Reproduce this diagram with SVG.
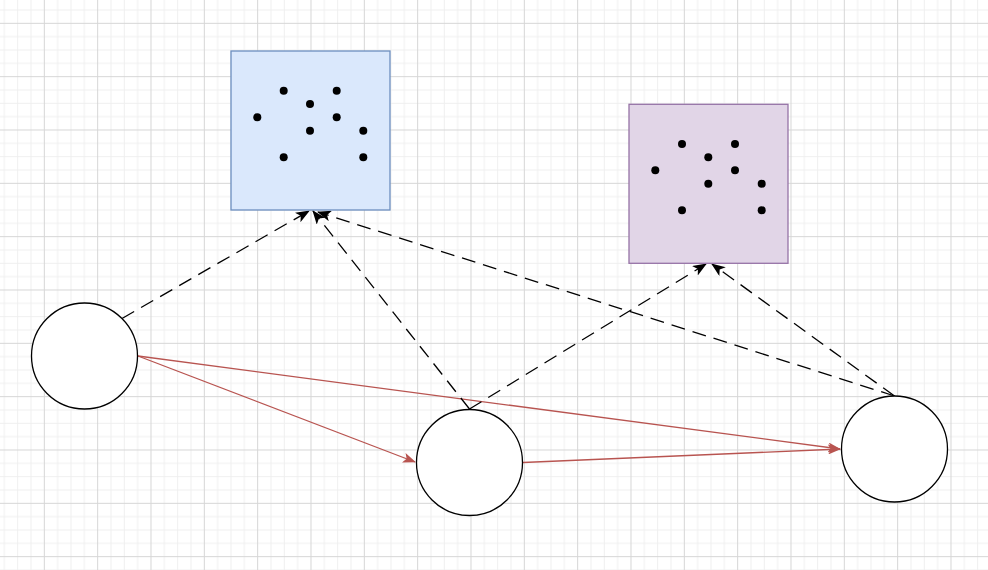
<svg xmlns="http://www.w3.org/2000/svg" width="988" height="570" viewBox="0 0 988 570">
  <defs>
    <pattern id="grid" patternUnits="userSpaceOnUse" x="43.83" y="22.83" width="53.333" height="53.333">
      <path d="M13.833 0V53.333M27.167 0V53.333M40.5 0V53.333M0 13.833H53.333M0 27.167H53.333M0 40.5H53.333" stroke="#efefef" stroke-width="1" fill="none"/>
      <path d="M0.5 0V53.333M0 0.5H53.333" stroke="#d6d6d6" stroke-width="1" fill="none"/>
    </pattern>
    <marker id="blk" viewBox="0 0 14 11" refX="13" refY="5.5" markerWidth="14" markerHeight="11" markerUnits="userSpaceOnUse" orient="auto">
      <path d="M0 0L14 5.5L0 11L3.5 5.5Z" fill="#000"/>
    </marker>
    <marker id="red" viewBox="0 0 13 10" refX="12" refY="5" markerWidth="13" markerHeight="10" markerUnits="userSpaceOnUse" orient="auto">
      <path d="M0 0L13 5L0 10L3 5Z" fill="#b85450"/>
    </marker>
    <style>
      .node{fill:#fff;stroke:#000;stroke-width:1.3}
      .dot{fill:#000}
      .dash{fill:none;stroke:#000;stroke-width:1.3;stroke-dasharray:14 8;marker-end:url(#blk)}
      .redl{fill:none;stroke:#b85450;stroke-width:1.3;marker-end:url(#red)}
    </style>
  </defs>
  <rect width="988" height="570" fill="#fff"/>
  <rect width="988" height="570" fill="url(#grid)"/>

  <g id="connectors">
    <path class="redl" d="M138 356L415 462"/>
    <path class="redl" d="M138 356L840 449"/>
    <path class="redl" d="M523 462.5L840 449"/>
    <path class="dash" d="M122 318.5L309 211"/>
    <path class="dash" d="M469.5 409L313 211"/>
    <path class="dash" d="M894.5 396L318 212"/>
    <path class="dash" d="M469.5 409L706 264"/>
    <path class="dash" d="M894.5 396L712 264"/>
  </g>

  <g id="box1">
    <rect x="231" y="51" width="159" height="159" fill="#dae8fc" stroke="#6c8ebf" stroke-width="1.3"/>
    <g class="dot">
      <circle cx="283.7" cy="90.7" r="4"/>
      <circle cx="336.7" cy="90.7" r="4"/>
      <circle cx="310" cy="104" r="4"/>
      <circle cx="257.3" cy="117.3" r="4"/>
      <circle cx="336.7" cy="117.3" r="4"/>
      <circle cx="310" cy="130.7" r="4"/>
      <circle cx="363.3" cy="130.7" r="4"/>
      <circle cx="283.7" cy="157.3" r="4"/>
      <circle cx="363.3" cy="157.3" r="4"/>
    </g>
  </g>

  <g id="box2">
    <rect x="629" y="104.3" width="159" height="159" fill="#e1d5e7" stroke="#9673a6" stroke-width="1.3"/>
    <g class="dot">
      <circle cx="682" cy="144" r="4"/>
      <circle cx="735" cy="144" r="4"/>
      <circle cx="708.3" cy="157.3" r="4"/>
      <circle cx="655.3" cy="170.3" r="4"/>
      <circle cx="735" cy="170.3" r="4"/>
      <circle cx="708.3" cy="183.7" r="4"/>
      <circle cx="761.7" cy="183.7" r="4"/>
      <circle cx="682" cy="210.3" r="4"/>
      <circle cx="761.7" cy="210.3" r="4"/>
    </g>
  </g>

  <g id="nodeA"><circle class="node" cx="84.5" cy="356" r="53"/></g>
  <g id="nodeB"><circle class="node" cx="469.5" cy="462.5" r="53"/></g>
  <g id="nodeC"><circle class="node" cx="894.5" cy="449" r="53"/></g>
</svg>
